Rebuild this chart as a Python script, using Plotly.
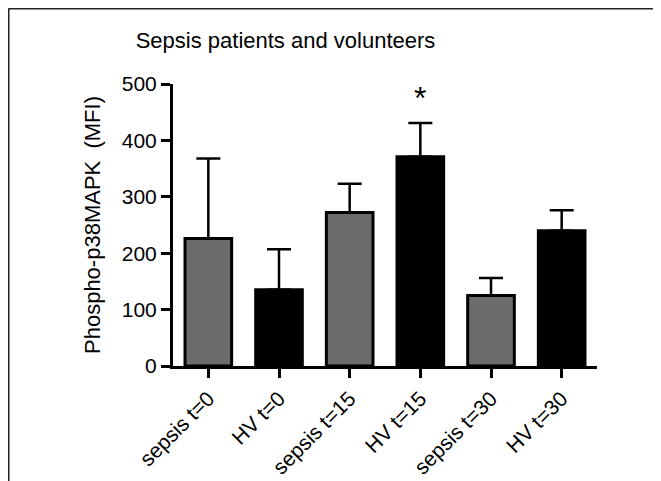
import plotly.graph_objects as go

categories = ["sepsis t=0", "HV t=0", "sepsis t=15", "HV t=15", "sepsis t=30", "HV t=30"]
means = [226, 135, 272, 371, 125, 240]
sem = [142, 72, 51, 60, 31, 36]
bar_colors = ["#6b6b6b", "#000000", "#6b6b6b", "#000000", "#6b6b6b", "#000000"]
y_ticks = [0, 100, 200, 300, 400, 500]
star_category = "HV t=15"
star_value = 476

# page has an 8px body margin, so the figure is sized to fit inside the window
W, H = 653, 473
L, R, T, B = 165, 64, 76, 115
pw, ph = W - L - R, H - T - B

def px_x(x):
    return (x - L) / pw

def px_y(y):
    return (H - B - y) / ph

font = "Liberation Sans, Arial, sans-serif"

fig = go.Figure()
fig.add_trace(go.Bar(
    x=categories, y=means,
    width=0.66,
    marker=dict(color=bar_colors, line=dict(color="black", width=3)),
    error_y=dict(type="data", array=sem, arrayminus=[0]*len(sem), symmetric=False,
                 color="black", thickness=2.5, width=12),
    showlegend=False,
))

fig.add_annotation(x=star_category, y=star_value, text="*", showarrow=False,
                   font=dict(family=font, size=32, color="black"), yanchor="middle")

fig.update_layout(
    width=W, height=H,
    margin=dict(l=L, r=R, t=T, b=B, autoexpand=False),
    paper_bgcolor="white", plot_bgcolor="white",
    title=dict(text="Sepsis patients and volunteers", x=277.5 / W, xanchor="center",
               y=1 - 32 / H, yanchor="middle",
               font=dict(family=font, size=22, color="black")),
    font=dict(family=font, color="black"),
    xaxis=dict(range=[-0.5, 5.5], showline=True, linecolor="black", linewidth=3,
               ticks="outside", ticklen=9, tickwidth=3, tickcolor="black",
               tickangle=-45, tickfont=dict(family=font, size=21, color="black"),
               showgrid=False, zeroline=False, automargin=False),
    yaxis=dict(range=[0, 500], tickvals=y_ticks, showline=True, linecolor="black", linewidth=3,
               ticks="outside", ticklen=9, tickwidth=3, tickcolor="black",
               tickfont=dict(family=font, size=21, color="black"),
               title=dict(text="Phospho-p38MAPK  (MFI)", standoff=16,
                          font=dict(family=font, size=22, color="black")),
               showgrid=False, zeroline=False, automargin=False),
    shapes=[
        dict(type="line", xref="paper", yref="paper",
             x0=px_x(0.5), x1=px_x(0.5), y0=px_y(H + 10), y1=px_y(0.5),
             line=dict(color="#222222", width=2)),
        dict(type="line", xref="paper", yref="paper",
             x0=px_x(0.5), x1=px_x(W + 10), y0=px_y(0.5), y1=px_y(0.5),
             line=dict(color="#222222", width=2)),
    ],
)

fig.write_html("out.html")
